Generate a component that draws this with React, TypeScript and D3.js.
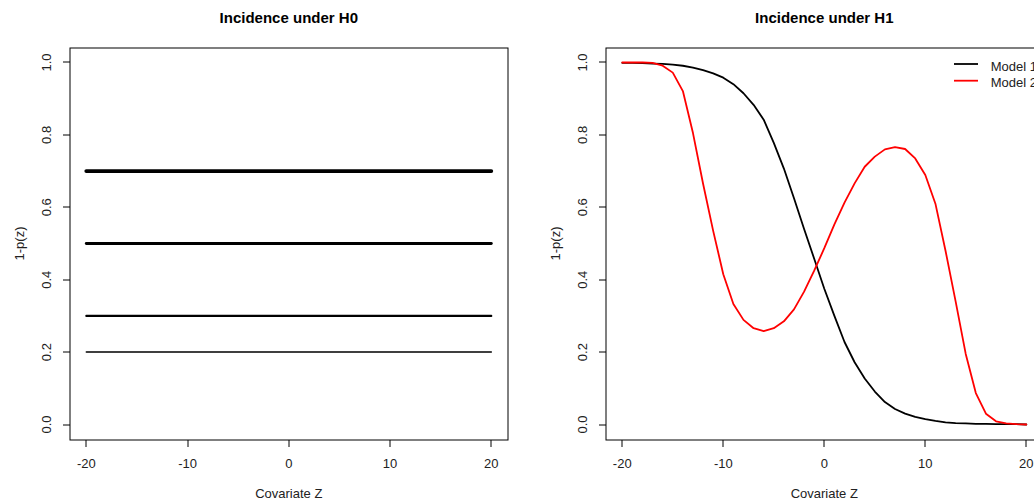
import React from "react";
import * as d3 from "d3";

// ---- data ----
const zGrid = [-20, -19, -18, -17, -16, -15, -14, -13, -12, -11, -10, -9, -8, -7, -6, -5, -4, -3, -2, -1, 0, 1, 2, 3, 4, 5, 6, 7, 8, 9, 10, 11, 12, 13, 14, 15, 16, 17, 18, 19, 20];
const model1 = [0.999, 0.999, 0.998, 0.997, 0.996, 0.994, 0.991, 0.986, 0.979, 0.97, 0.958, 0.94, 0.915, 0.883, 0.842, 0.778, 0.707, 0.625, 0.54, 0.458, 0.375, 0.3, 0.228, 0.172, 0.127, 0.091, 0.062, 0.043, 0.03, 0.021, 0.015, 0.01, 0.006, 0.004, 0.003, 0.002, 0.002, 0.001, 0.001, 0.001, 0.0];
const model2 = [1.0, 1.0, 1.0, 0.999, 0.991, 0.972, 0.921, 0.805, 0.665, 0.535, 0.415, 0.333, 0.289, 0.266, 0.258, 0.266, 0.285, 0.318, 0.367, 0.425, 0.487, 0.553, 0.613, 0.666, 0.712, 0.74, 0.76, 0.766, 0.761, 0.735, 0.689, 0.61, 0.48, 0.34, 0.195, 0.087, 0.03, 0.009, 0.003, 0.001, 0.0];
const h0Levels = [0.7, 0.5, 0.3, 0.2];
const xTicks = [-20, -10, 0, 10, 20];
const yTicks = [0, 0.2, 0.4, 0.6, 0.8, 1.0];
const seriesNames = ["Model 1", "Model 2"];
const titles = ["Incidence under H0", "Incidence under H1"];
const xLabel = "Covariate Z";
const yLabel = "1-p(z)";

// ---- styles ----
const h0Widths = [3.8, 2.9, 2.1, 1.5];
const seriesColors = ["#000000", "#ff0000"];
const FONT = "'Liberation Sans', Arial, Helvetica, sans-serif";

type PanelProps = { x0: number; x1: number; index: number; children: (x: d3.ScaleLinear<number, number>, y: d3.ScaleLinear<number, number>) => React.ReactNode };

const TOP = 48;
const BOTTOM = 439;

function Panel({ x0, x1, index, children }: PanelProps) {
  const x = d3.scaleLinear().domain([-21.6, 21.6]).range([x0, x1]);
  const y = d3.scaleLinear().domain([-0.04, 1.04]).range([BOTTOM, TOP]);
  const cx = (x0 + x1) / 2;
  const yMid = (TOP + BOTTOM) / 2;
  const fmt = d3.format(".1f");
  return (
    <g>
      <text x={cx} y={23} textAnchor="middle" fontFamily={FONT} fontWeight="bold" fontSize={15} fill="#000">
        {titles[index]}
      </text>
      {children(x, y)}
      <rect x={Math.round(x0)} y={TOP} width={Math.round(x1) - Math.round(x0)} height={BOTTOM - TOP + 1} fill="none" stroke="#000" strokeWidth={1} />
      {xTicks.map((t) => (
        <g key={"xt" + t}>
          <line x1={Math.round(x(t))} x2={Math.round(x(t))} y1={BOTTOM + 1} y2={BOTTOM + 8} stroke="#000" strokeWidth={1} />
          <text x={x(t)} y={463} textAnchor="middle" dominantBaseline="central" fontFamily={FONT} fontSize={13} fill="#222">
            {t}
          </text>
        </g>
      ))}
      {yTicks.map((t) => (
        <g key={"yt" + t}>
          <line x1={Math.round(x0) - 7} x2={Math.round(x0)} y1={Math.round(y(t))} y2={Math.round(y(t))} stroke="#000" strokeWidth={1} />
          <text transform={`translate(${x0 - 24},${y(t)}) rotate(-90)`} textAnchor="middle" dominantBaseline="central" fontFamily={FONT} fontSize={13} fill="#222">
            {fmt(t)}
          </text>
        </g>
      ))}
      <text x={cx} y={493} textAnchor="middle" dominantBaseline="central" fontFamily={FONT} fontSize={13} fill="#222">
        {xLabel}
      </text>
      <text transform={`translate(${x0 - 51},${yMid}) rotate(-90)`} textAnchor="middle" dominantBaseline="central" fontFamily={FONT} fontSize={13} fill="#222">
        {yLabel}
      </text>
    </g>
  );
}

export default function App() {
  const zExtent = d3.extent(zGrid) as [number, number];
  return (
    <svg width={1034} height={501} style={{ position: "absolute", left: 0, top: 0, background: "#fff" }}>
      <rect x={0} y={0} width={1034} height={501} fill="#fff" />
      <Panel x0={70.1} x1={507.5} index={0}>
        {(x, y) =>
          h0Levels.map((v, i) => (
            <line key={i} x1={x(zExtent[0])} x2={x(zExtent[1])} y1={y(v)} y2={y(v)} stroke="#000" strokeWidth={h0Widths[i]} strokeLinecap="round" />
          ))
        }
      </Panel>
      <Panel x0={606.1} x1={1042.5} index={1}>
        {(x, y) => {
          const line = d3
            .line<number>()
            .x((_, i) => x(zGrid[i]))
            .y((d) => y(d));
          return (
            <g>
              {[model1, model2].map((s, k) => (
                <path key={k} d={line(s) || ""} fill="none" stroke={seriesColors[k]} strokeWidth={1.8} strokeLinejoin="round" strokeLinecap="round" />
              ))}
              {seriesNames.map((n, k) => (
                <g key={n}>
                  <line x1={954} x2={978} y1={64 + k * 16.7} y2={64 + k * 16.7} stroke={seriesColors[k]} strokeWidth={1.8} />
                  <text x={990.7} y={70.5 + k * 16.7} fontFamily={FONT} fontSize={13} fill="#222">
                    {n}
                  </text>
                </g>
              ))}
            </g>
          );
        }}
      </Panel>
    </svg>
  );
}
